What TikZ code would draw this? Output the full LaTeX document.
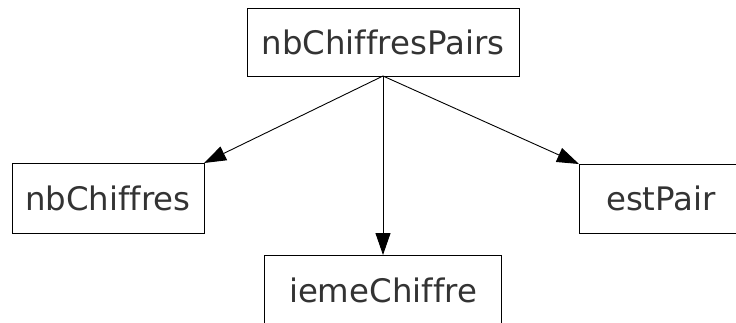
\documentclass[tikz,border=0pt]{standalone}
\usepackage{fontspec}
\setmainfont[Ligatures={NoCommon}]{DejaVu Sans}
\usetikzlibrary{arrows.meta}
\definecolor{txt}{HTML}{333333}
\begin{document}
\begin{tikzpicture}[x=1pt,y=-1pt,
  box/.style={draw=black,line width=1pt,rectangle,inner sep=0pt,outer sep=0pt,
    font=\fontsize{32.4}{38}\selectfont,text=txt},
  arr/.style={line width=0.9pt,-{Triangle[length=22pt,width=15pt]}}]
\useasboundingbox (0,0) rectangle (736,322);
\clip (0,0) rectangle (736,322);
\node[box,minimum width=272pt,minimum height=68pt] (top) at (383,42) {nbChiffresPairs};
\node[box,minimum width=192pt,minimum height=70pt] (nbc) at (108,198) {nbChiffres};
\node[box,minimum width=164pt,minimum height=69pt,anchor=north west] (est) at (579,164) {estPair};
\node[box,minimum width=237pt,minimum height=70pt] (ieme) at (383,290) {iemeChiffre};
\draw[arr] (top.south) -- (nbc.north east);
\draw[arr] (top.south) -- (ieme.north);
\draw[arr] (top.south) -- (est.north west);
\end{tikzpicture}
\end{document}
